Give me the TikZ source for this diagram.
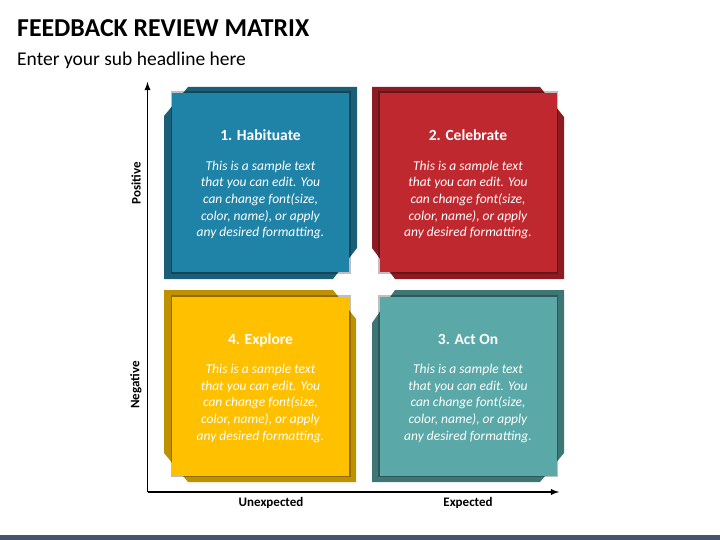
\documentclass[tikz,border=0pt]{standalone}
\usepackage{fontspec}
\setmainfont{Carlito}
\usetikzlibrary{positioning}

\definecolor{habfront}{HTML}{1F83A8}
\definecolor{habback}{HTML}{1A5E78}
\definecolor{celfront}{HTML}{C0282F}
\definecolor{celback}{HTML}{8C1C22}
\definecolor{expfront}{HTML}{FFC000}
\definecolor{expback}{HTML}{BF9000}
\definecolor{actfront}{HTML}{5AA8A8}
\definecolor{actback}{HTML}{3E7676}
\definecolor{barcol}{HTML}{44546A}

\newcommand{\cardhead}{\fontsize{15.5}{18}\selectfont\bfseries\upshape\rule{0pt}{15pt}}
\newcommand{\sampletext}{This is a sample text\\that you can edit. You\\can change font(size,\\color, name), or apply\\any desired formatting.}

\tikzset{
  card/.style={minimum width=177pt, minimum height=179pt, inner sep=0pt,
    text=white, align=center,
    font=\fontsize{13.5}{16.7}\selectfont\itshape,
    preaction={fill=none, draw=black, draw opacity=.25, line width=3pt}},
  axislabel/.style={font=\fontsize{13}{15}\selectfont\bfseries},
  axis/.style={line width=1.8pt, ->, >=latex}
}

\begin{document}
\begin{tikzpicture}[x=1pt,y=-1pt]
\useasboundingbox (0,0) rectangle (720,540);

% title
\node [anchor=base west, inner sep=0pt, font=\fontsize{25.8}{29}\selectfont\bfseries] (title) at (17,37) {FEEDBACK REVIEW MATRIX};
\node [anchor=base west, inner sep=0pt, font=\fontsize{19.5}{22}\selectfont] (sub) at (17,66) {Enter your sub headline here};

% back shapes
\fill [habback] (164,116) -- (188,87) -- (357,87) -- (357,248) -- (333,279) -- (164,279) -- cycle;
\fill [celback] (372,87) -- (540,87) -- (564,117) -- (564,279) -- (395,279) -- (372,248) -- cycle;
\fill [expback] (164,290) -- (333,290) -- (356,319) -- (356,482) -- (188,482) -- (164,453) -- cycle;
\fill [actback] (372,323) -- (395,290) -- (564,290) -- (564,453) -- (540,482) -- (372,482) -- cycle;

% cards
\node [card, fill=habfront] (hab) at (260.5,182.5) {{\cardhead 1. Habituate}\\[12.6pt]\sampletext};
\node [card, fill=celfront] (cel) at (468,182.5) {{\cardhead 2. Celebrate}\\[12.6pt]\sampletext};
\node [card, fill=expfront] (expl) at (260.5,386) {{\cardhead 4. Explore}\\[12.6pt]\sampletext};
\node [card, fill=actfront] (act) at (468,386) {{\cardhead 3. Act On}\\[12.6pt]\sampletext};

% axes
\coordinate (o) at (147.5,492);
\coordinate (ytop) at (147.5,82);
\coordinate (xend) at (559,492);
\draw [axis] (o) -- (ytop);
\draw [axis] (o) -- (xend);

\node [axislabel, rotate=90] (pos) at (136,183) {Positive};
\node [axislabel, rotate=90] (neg) at (136,385) {Negative};
\node [axislabel] (unexp) at (271,503) {Unexpected};
\node [axislabel] (expd) at (468,503) {Expected};

% bottom bar
\fill [barcol] (0,535) rectangle (720,540);
\end{tikzpicture}
\end{document}
